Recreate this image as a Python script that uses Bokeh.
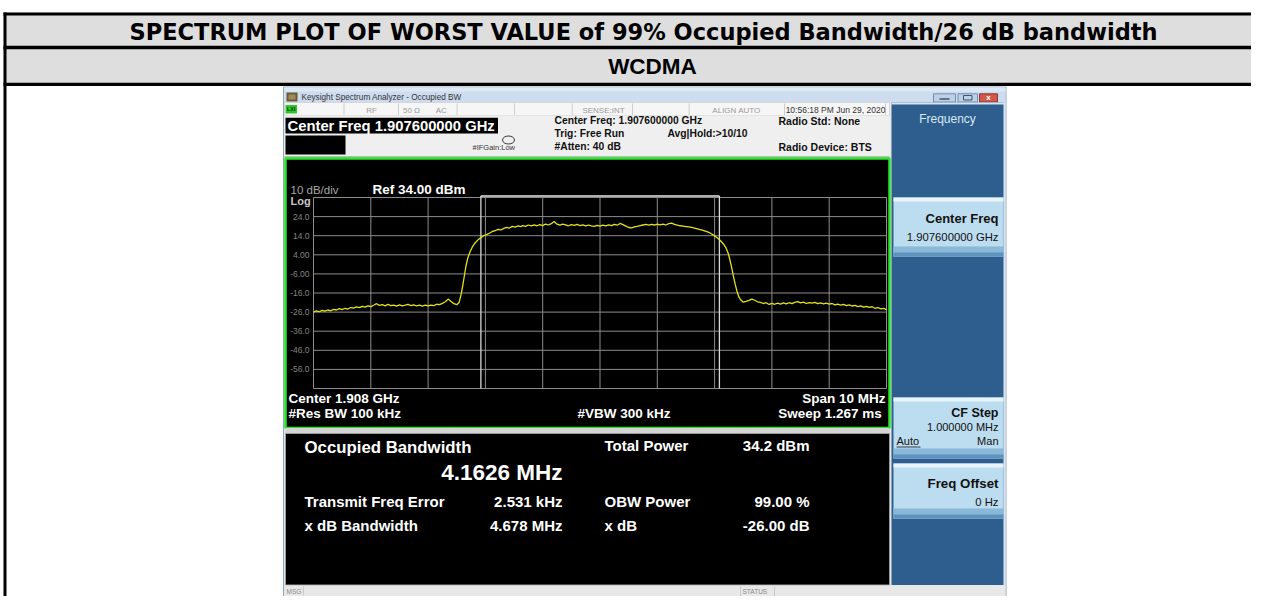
from bokeh.plotting import figure
from bokeh.models import Range1d
from bokeh.embed import file_html
from bokeh.resources import INLINE
from bokeh.core.properties import value

# ---------------- data ----------------
TITLE = "SPECTRUM PLOT OF WORST VALUE of 99% Occupied Bandwidth/26 dB bandwidth"
SUBTITLE = "WCDMA"

center_freq_ghz = 1.9076
span_mhz = 10.0
ref_level_dbm = 34.0
db_per_div = 10.0
n_div = 10

ytick_values = [24, 14, 4, -6, -16, -26, -36, -46, -56]
ytick_labels = ["24.0", "14.0", "4.00", "-6.00", "-16.0", "-26.0", "-36.0", "-46.0", "-56.0"]
xgrid_offsets_mhz = [-5, -4, -3, -2, -1, 0, 1, 2, 3, 4, 5]

# trace: frequency offset from center (MHz) and level (dBm)
freq_offset_mhz = [
    -5.00, -4.95, -4.90, -4.85, -4.80, -4.75, -4.70, -4.65, -4.60, -4.55,
    -4.50, -4.45, -4.40, -4.35, -4.30, -4.25, -4.20, -4.15, -4.10, -4.05,
    -4.00, -3.95, -3.90, -3.85, -3.80, -3.75, -3.70, -3.65, -3.60, -3.55,
    -3.50, -3.45, -3.40, -3.35, -3.30, -3.25, -3.20, -3.15, -3.10, -3.05,
    -3.00, -2.95, -2.90, -2.85, -2.80, -2.75, -2.70, -2.65, -2.60, -2.55,
    -2.50, -2.46, -2.43, -2.40, -2.37, -2.34, -2.31, -2.27, -2.23, -2.18,
    -2.13, -2.08, -2.03, -1.98, -1.93, -1.88, -1.83, -1.78, -1.73, -1.68,
    -1.63, -1.58, -1.53, -1.48, -1.43, -1.38,
    -1.35, -1.30, -1.25, -1.20, -1.15, -1.10, -1.05, -1.00, -0.95, -0.90,
    -0.85, -0.80, -0.75, -0.70, -0.65, -0.60, -0.55, -0.50, -0.45, -0.40,
    -0.35, -0.30, -0.25, -0.20, -0.15, -0.10, -0.05, 0.00, 0.05, 0.10,
    0.15, 0.20, 0.25, 0.30, 0.35, 0.40, 0.45, 0.50, 0.55, 0.60,
    0.65, 0.70, 0.75, 0.80, 0.85, 0.90, 0.95, 1.00, 1.05, 1.10,
    1.15, 1.20, 1.25, 1.30, 1.35, 1.40, 1.45, 1.50, 1.55, 1.60,
    1.65, 1.70, 1.75, 1.80, 1.85, 1.90, 1.95, 2.00, 2.05, 2.10,
    2.15, 2.20, 2.24, 2.27, 2.30, 2.33, 2.36, 2.39, 2.42, 2.45,
    2.50, 2.55, 2.60, 2.65, 2.70, 2.75, 2.80, 2.85, 2.90, 2.95,
    3.00, 3.05, 3.10, 3.15, 3.20, 3.25, 3.30, 3.35, 3.40, 3.45,
    3.50, 3.55, 3.60, 3.65, 3.70, 3.75, 3.80, 3.85, 3.90, 3.95,
    4.00, 4.05, 4.10, 4.15, 4.20, 4.25, 4.30, 4.35, 4.40, 4.45,
    4.50, 4.55, 4.60, 4.65, 4.70, 4.75, 4.80, 4.85, 4.90, 4.95, 5.00,
]
level_dbm = [
    -26.0, -25.4, -25.8, -25.1, -25.5, -24.9, -25.3, -24.6, -24.9, -24.2,
    -24.7, -24.0, -24.4, -23.6, -23.9, -23.3, -23.7, -23.0, -23.4, -22.7,
    -23.1, -22.4, -21.6, -22.5, -22.1, -22.7, -22.0, -22.6, -22.3, -22.9,
    -22.2, -22.7, -22.4, -22.0, -22.6, -22.2, -22.8, -22.3, -22.9, -22.4,
    -22.8, -22.3, -22.6, -21.9, -22.1, -21.4, -20.6, -19.2, -20.4, -21.6,
    -22.1, -21.0, -17.5, -13.0, -7.5, -2.0, 2.0, 5.5, 8.0, 10.2,
    11.8, 13.0, 14.0, 14.6, 15.3, 16.2, 16.6, 17.3, 17.0, 17.8,
    18.3, 18.0, 18.9, 18.5, 19.2, 18.7,
    19.3, 18.9, 19.6, 19.1, 19.7, 19.2, 19.8, 19.3, 20.1, 19.6,
    20.3, 21.4, 20.0, 19.5, 20.1, 19.7, 19.2, 19.8, 19.4, 19.9,
    19.3, 19.7, 19.1, 19.6, 19.2, 18.9, 19.4, 19.0, 19.5, 19.1,
    19.7, 19.3, 19.9, 19.5, 20.4, 19.8, 19.0, 18.3, 18.1, 18.6,
    18.9, 19.3, 19.6, 19.9, 19.5, 19.9, 19.6, 20.0, 19.7, 20.1,
    19.6, 20.3, 20.6, 19.9, 19.5, 19.2, 19.0, 18.8, 18.6, 18.3,
    18.0, 17.6, 17.2, 16.8, 16.3, 15.8, 14.9, 13.9, 12.8, 11.5,
    9.8, 7.6, 4.5, 1.0, -3.0, -7.5, -11.5, -15.0, -17.8, -19.4,
    -20.8, -20.4, -19.9, -19.2, -19.8, -20.6, -20.9, -21.5, -21.1, -22.0,
    -21.4, -21.9, -21.3, -21.8, -21.2, -21.7, -21.1, -21.6, -20.9, -20.5,
    -21.2, -20.8, -21.5, -21.0, -21.3, -20.9, -21.6, -21.2, -21.7, -21.3,
    -21.8, -21.5, -22.2, -21.8, -22.3, -22.0, -22.6, -22.2, -22.8, -22.5,
    -23.1, -22.7, -23.4, -23.0, -23.5, -23.2, -24.0, -23.6, -24.3, -24.0, -24.8,
]

obw_mhz = 4.1626
freq_error_khz = 2.531
xdb_bw_mhz = 4.678
total_power_dbm = 34.2
obw_power_pct = 99.00
xdb_db = -26.00

# ---------------- layout (picture pixels) ----------------
W, H = 1251, 596
GL, GR, GT, GB = 313, 886, 197, 388   # graticule box

FONT = "Liberation Sans"

p = figure(width=W, height=H, x_range=Range1d(0, W), y_range=Range1d(H, 0),
           output_backend="svg", toolbar_location=None, min_border=0,
           x_axis_location=None, y_axis_location=None)
p.outline_line_color = None
p.grid.visible = False
p.background_fill_color = "white"
p.border_fill_color = "white"

f_lo, f_hi = -span_mhz / 2, span_mhz / 2
px_mhz = (GR - GL) / span_mhz
db_top = ref_level_dbm
db_bot = ref_level_dbm - n_div * db_per_div
px_db = (GB - GT) / (db_top - db_bot)
p.extra_x_ranges = {"freq": Range1d(f_lo - GL / px_mhz, f_hi + (W - GR) / px_mhz)}
p.extra_y_ranges = {"dbm": Range1d(db_bot - (H - GB) / px_db, db_top + GT / px_db)}


def rect(l, t, r, b, color, line=None, lw=1.0):
    p.quad(left=[l], right=[r], top=[t], bottom=[b], fill_color=color,
           line_color=line, line_width=lw)


def txt(x, y, s, size, color="black", bold=False, align="left", font=FONT):
    p.text(x=[x], y=[y], text=[s], text_font_size=f"{size}px", text_color=color,
           text_font_style="bold" if bold else "normal", text_align=align,
           text_baseline="middle", text_font=value(font))


def hline(x1, x2, y, color, lw=1.0):
    p.segment(x0=[x1], x1=[x2], y0=[y], y1=[y], line_color=color, line_width=lw)


def vline(x, y1, y2, color, lw=1.0):
    p.segment(x0=[x], x1=[x], y0=[y1], y1=[y2], line_color=color, line_width=lw)


# ---------------- table ----------------
rect(3, 12, W, 85, "#dedede")
rect(3, 12, W, 15, "black")
rect(3, 45.3, W, 48.7, "black")
rect(3, 82.3, W, 85.5, "black")
rect(3, 12, 6, H, "black")
txt(643, 31, TITLE, 22.5, bold=True, align="center", font="DejaVu Sans")
txt(652, 66, SUBTITLE, 22.5, bold=True, align="center")

# ---------------- analyzer window ----------------
rect(283, 86.5, 1005.5, H, "#e6e6e6", line="#8ea6be")
# title bar
rect(284, 87, 1005, 102, "#cddcef")
rect(284, 87, 1005, 91, "#dde8f5")
rect(286, 92, 297, 101, "#6b5a3a")
rect(288, 94, 295, 99, "#a08a5a")
txt(301, 96.7, "Keysight Spectrum Analyzer - Occupied BW", 8.2, color="#333333")
rect(933, 93.3, 955, 101.5, "#bcd0e6", line="#6f8fb2")
hline(939, 949, 98.5, "#3f556f", 1.5)
rect(957.5, 93.3, 977, 101.5, "#bcd0e6", line="#6f8fb2")
rect(963, 95, 971.5, 99.5, "#bcd0e6", line="#3f556f")
rect(979, 93.3, 997, 101.5, "#d4584a", line="#8a3a30")
txt(988, 97.4, "x", 8, color="white", bold=True, align="center")

# status row
rect(284, 102, 889, 115, "#f6f6f6", line="#c8c8c8", lw=0.6)
rect(285, 104.5, 296.5, 113, "#2ec82e")
txt(290.7, 108.8, "LXI", 5.5, color="#0a3a0a", bold=True, align="center")
for xs in [343.5, 398, 456.6, 514, 571.7, 632, 688.7, 784, 885]:
    vline(xs, 103, 114.5, "#c4c4c4", 0.8)
txt(371, 109.5, "RF", 8, color="#9a9a9a", align="center")
txt(411, 109.5, "50 Ω", 8, color="#9a9a9a", align="center")
txt(440.7, 109.5, "AC", 8, color="#9a9a9a", align="center")
txt(603, 109.5, "SENSE:INT", 8, color="#9a9a9a", align="center")
txt(736, 109.5, "ALIGN AUTO", 8, color="#9a9a9a", align="center")
txt(835, 109.5, "10:56:18 PM Jun 29, 2020", 8.5, color="#333333", align="center")

# header
rect(284, 115, 889, 156.5, "#efefef")
hline(284, 889, 156.5, "#8a8a8a", 1.2)
rect(285, 117.3, 497.5, 133, "black")
txt(287, 125.3, "Center Freq 1.907600000 GHz", 14.8, color="white", bold=True)
rect(285, 135, 345, 154, "black")
txt(472, 147, "#IFGain:Low", 7.5, color="#333333")
p.ellipse(x=[508], y=[139.5], width=[12], height=[8], fill_color=None, line_color="#333333")
txt(554, 120, "Center Freq: 1.907600000 GHz", 10.3, bold=True, color="#111111")
txt(554, 133, "Trig: Free Run", 10.3, bold=True, color="#111111")
txt(667, 133, "Avg|Hold:>10/10", 10.3, bold=True, color="#111111")
txt(554, 145.5, "#Atten: 40 dB", 10.3, bold=True, color="#111111")
txt(778, 120, "Radio Std: None", 10.5, bold=True, color="#111111")
txt(778, 146, "Radio Device: BTS", 10.5, bold=True, color="#111111")

# graph panel
rect(285, 158, 889, 427.5, "black", line="#27e627", lw=2.5)
txt(290, 189.3, "10 dB/div", 11.5, color="#a8a8a8")
txt(290, 200.7, "Log", 11, color="#c8c8c8", bold=True)
txt(372, 188.5, "Ref 34.00 dBm", 13.5, color="white", bold=True)

# graticule (through the frequency / dBm scales)
for fo in xgrid_offsets_mhz:
    p.segment(x0=[fo], x1=[fo], y0=[db_bot], y1=[db_top], line_color="#8c8c8c",
              line_width=1, x_range_name="freq", y_range_name="dbm")
for lv in [db_top] + ytick_values + [db_bot]:
    p.segment(x0=[f_lo], x1=[f_hi], y0=[lv], y1=[lv], line_color="#8c8c8c",
              line_width=1, x_range_name="freq", y_range_name="dbm")
p.text(x=[GL - 4] * len(ytick_values), y=ytick_values, text=ytick_labels,
       text_font_size="8.5px", text_color="#858585", text_align="right",
       text_baseline="middle", text_font=value(FONT), y_range_name="dbm")

# OBW markers
c_off = freq_error_khz / 1000.0
m_lo, m_hi = c_off - obw_mhz / 2, c_off + obw_mhz / 2
for mx in [m_lo, m_hi]:
    p.segment(x0=[mx], x1=[mx], y0=[db_bot], y1=[db_top + 0.8], line_color="#d8d8d8",
              line_width=1.3, x_range_name="freq", y_range_name="dbm")
p.segment(x0=[m_lo], x1=[m_hi], y0=[db_top + 0.8], y1=[db_top + 0.8], line_color="#e8e8e8",
          line_width=1.6, x_range_name="freq", y_range_name="dbm")

# trace
p.line(freq_offset_mhz, level_dbm, line_color="#e2e21c", line_width=1.3,
       x_range_name="freq", y_range_name="dbm")

txt(288, 398, "Center  1.908 GHz", 13.5, color="white", bold=True)
txt(288, 413, "#Res BW  100 kHz", 13.5, color="white", bold=True)
txt(577, 413, "#VBW  300 kHz", 13.5, color="white", bold=True)
txt(885, 398, "Span 10 MHz", 13.5, color="white", bold=True, align="right")
txt(885, 413, "Sweep  1.267 ms", 13.5, color="white", bold=True, align="right")

# results panel
rect(285, 427.5, 889, 433, "#d4d4d4")
rect(285, 433, 889, 584.5, "black", line="#9a9a9a", lw=1)
txt(304, 447, "Occupied Bandwidth", 16.8, color="white", bold=True)
txt(562, 471.5, f"{obw_mhz:.4f} MHz", 22.5, color="white", bold=True, align="right")
txt(304, 500.5, "Transmit Freq Error", 15, color="white", bold=True)
txt(562, 500.5, f"{freq_error_khz:.3f} kHz", 15, color="white", bold=True, align="right")
txt(304, 525, "x dB Bandwidth", 15, color="white", bold=True)
txt(562, 525, f"{xdb_bw_mhz:.3f} MHz", 15, color="white", bold=True, align="right")
txt(604, 445, "Total Power", 15, color="white", bold=True)
txt(809, 445, f"{total_power_dbm:.1f} dBm", 15, color="white", bold=True, align="right")
txt(604, 500.5, "OBW Power", 15, color="white", bold=True)
txt(809, 500.5, f"{obw_power_pct:.2f} %", 15, color="white", bold=True, align="right")
txt(604, 525, "x dB", 15, color="white", bold=True)
txt(809, 525, f"{xdb_db:.2f} dB", 15, color="white", bold=True, align="right")

# bottom status bar
rect(284, 585, 1005, H, "#e8e8e8")
vline(303, 586, H, "#c0c0c0", 0.8)
vline(740, 586, H, "#c0c0c0", 0.8)
vline(774, 586, H, "#c0c0c0", 0.8)
txt(286, 590.5, "MSG", 6.5, color="#888888")
txt(742, 590.5, "STATUS", 6.5, color="#888888")

# softkey panel
rect(891, 102, 1004, 584.5, "#2d5e8d")
rect(891, 102, 1004, 104, "#d8e4ef")
rect(1003, 102, 1005, 584.5, "#d8e4ef")
txt(947, 118.3, "Frequency", 12, color="#d8e8f4", align="center")


def softkey(t, b):
    rect(893, t, 1003, b, "#bcdcef")
    rect(893, t, 1003, t + 4, "#e8f4fb")
    rect(893, b - 10, 1003, b, "#8ab8d8")
    rect(893, b - 4, 1003, b, "#5f92bd")


softkey(197, 256)
txt(998, 218, "Center Freq", 13, bold=True, align="right", color="#111111")
txt(998, 236.7, "1.907600000 GHz", 11.3, align="right", color="#111111")
softkey(397, 458)
txt(998, 412, "CF Step", 12.5, bold=True, align="right", color="#111111")
txt(998, 426, "1.000000 MHz", 11, align="right", color="#111111")
txt(896, 440.5, "Auto", 11, color="#111111")
hline(896, 920, 446.5, "#111111", 0.8)
txt(998, 440.5, "Man", 11, align="right", color="#111111")
softkey(463, 518)
txt(998, 483, "Freq Offset", 13.3, bold=True, align="right", color="#111111")
txt(998, 501, "0 Hz", 11.3, align="right", color="#111111")

open("out.html", "w").write(file_html(p, INLINE))
